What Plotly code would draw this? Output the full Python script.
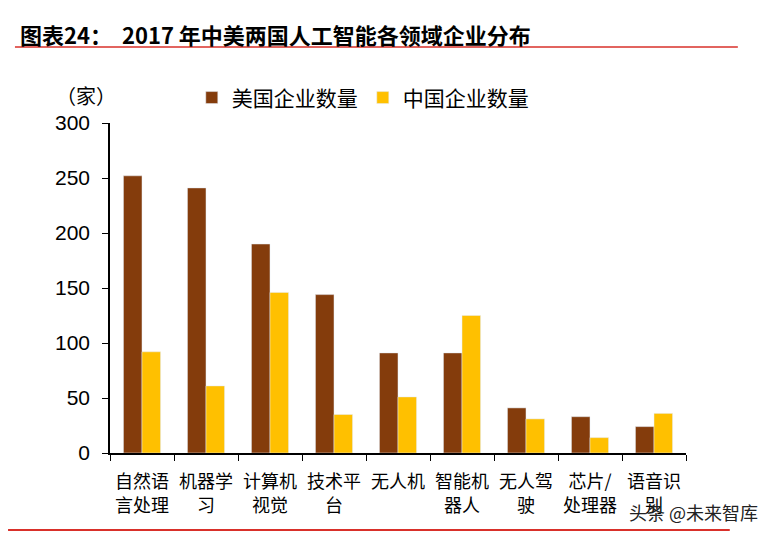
import plotly.graph_objects as go

categories = ["自然语<br>言处理", "机器学<br>习", "计算机<br>视觉", "技术平<br>台", "无人机",
              "智能机<br>器人", "无人驾<br>驶", "芯片/<br>处理器", "语音识<br>别"]
us_counts = [252, 241, 190, 144, 91, 91, 41, 33, 24]
cn_counts = [92, 61, 146, 35, 51, 125, 31, 14, 36]
y_ticks = [0, 50, 100, 150, 200, 250, 300]

fig = go.Figure()
fig.add_bar(x=categories, y=us_counts, name="美国企业数量", marker_color="#843C0C")
fig.add_bar(x=categories, y=cn_counts, name="中国企业数量", marker_color="#FFC000")

fig.update_layout(
    width=765, height=526,
    margin=dict(l=102, r=87, t=115, b=81, autoexpand=False),
    paper_bgcolor="white", plot_bgcolor="white",
    barmode="group", bargap=0.42, bargroupgap=0,
    font=dict(family="Noto Sans CJK SC", color="black"),
    legend=dict(orientation="h", x=0.142, y=1.076, xanchor="left", yanchor="middle",
                font=dict(size=21, family="Noto Sans CJK SC"), itemwidth=30,
                bgcolor="rgba(0,0,0,0)"),
    xaxis=dict(showline=True, linecolor="black", linewidth=1.5, ticks="outside",
               tickson="boundaries", ticklen=6, tickcolor="black",
               ticklabelstandoff=12,
               tickfont=dict(size=18, family="Noto Sans CJK SC")),
    yaxis=dict(range=[0, 300], tickvals=y_ticks, showline=True, linecolor="black",
               linewidth=1.5, ticks="outside", ticklen=6, tickcolor="black",
               showgrid=False, zeroline=False, ticklabelstandoff=8,
               tickfont=dict(size=21, family="Liberation Sans")),
    showlegend=True,
)

fig.add_annotation(text="<b>图表24：  2017 年中美两国人工智能各领域企业分布</b>",
                   xref="paper", yref="paper", x=-0.16, y=1.27,
                   xanchor="left", yanchor="middle", showarrow=False,
                   font=dict(size=22, family="Noto Sans CJK SC", color="black"))
fig.add_annotation(text="（家）", xref="paper", yref="paper", x=-0.042, y=1.082,
                   xanchor="center", yanchor="middle", showarrow=False,
                   font=dict(size=20, family="Noto Sans CJK SC", color="black"))
fig.add_annotation(text="头条 @未来智库", xref="paper", yref="paper", x=1.128, y=-0.179,
                   xanchor="right", yanchor="middle", showarrow=False,
                   font=dict(size=18, family="Noto Sans CJK SC", color="#222"))

fig.add_shape(type="line", xref="paper", yref="paper", x0=-0.165, x1=1.09,
              y0=1.230, y1=1.230, line=dict(color="#D9302A", width=1.5))
fig.add_shape(type="line", xref="paper", yref="paper", x0=-0.177, x1=1.076,
              y0=-0.233, y1=-0.233, line=dict(color="#D9302A", width=2))

fig.write_html("out.html")
